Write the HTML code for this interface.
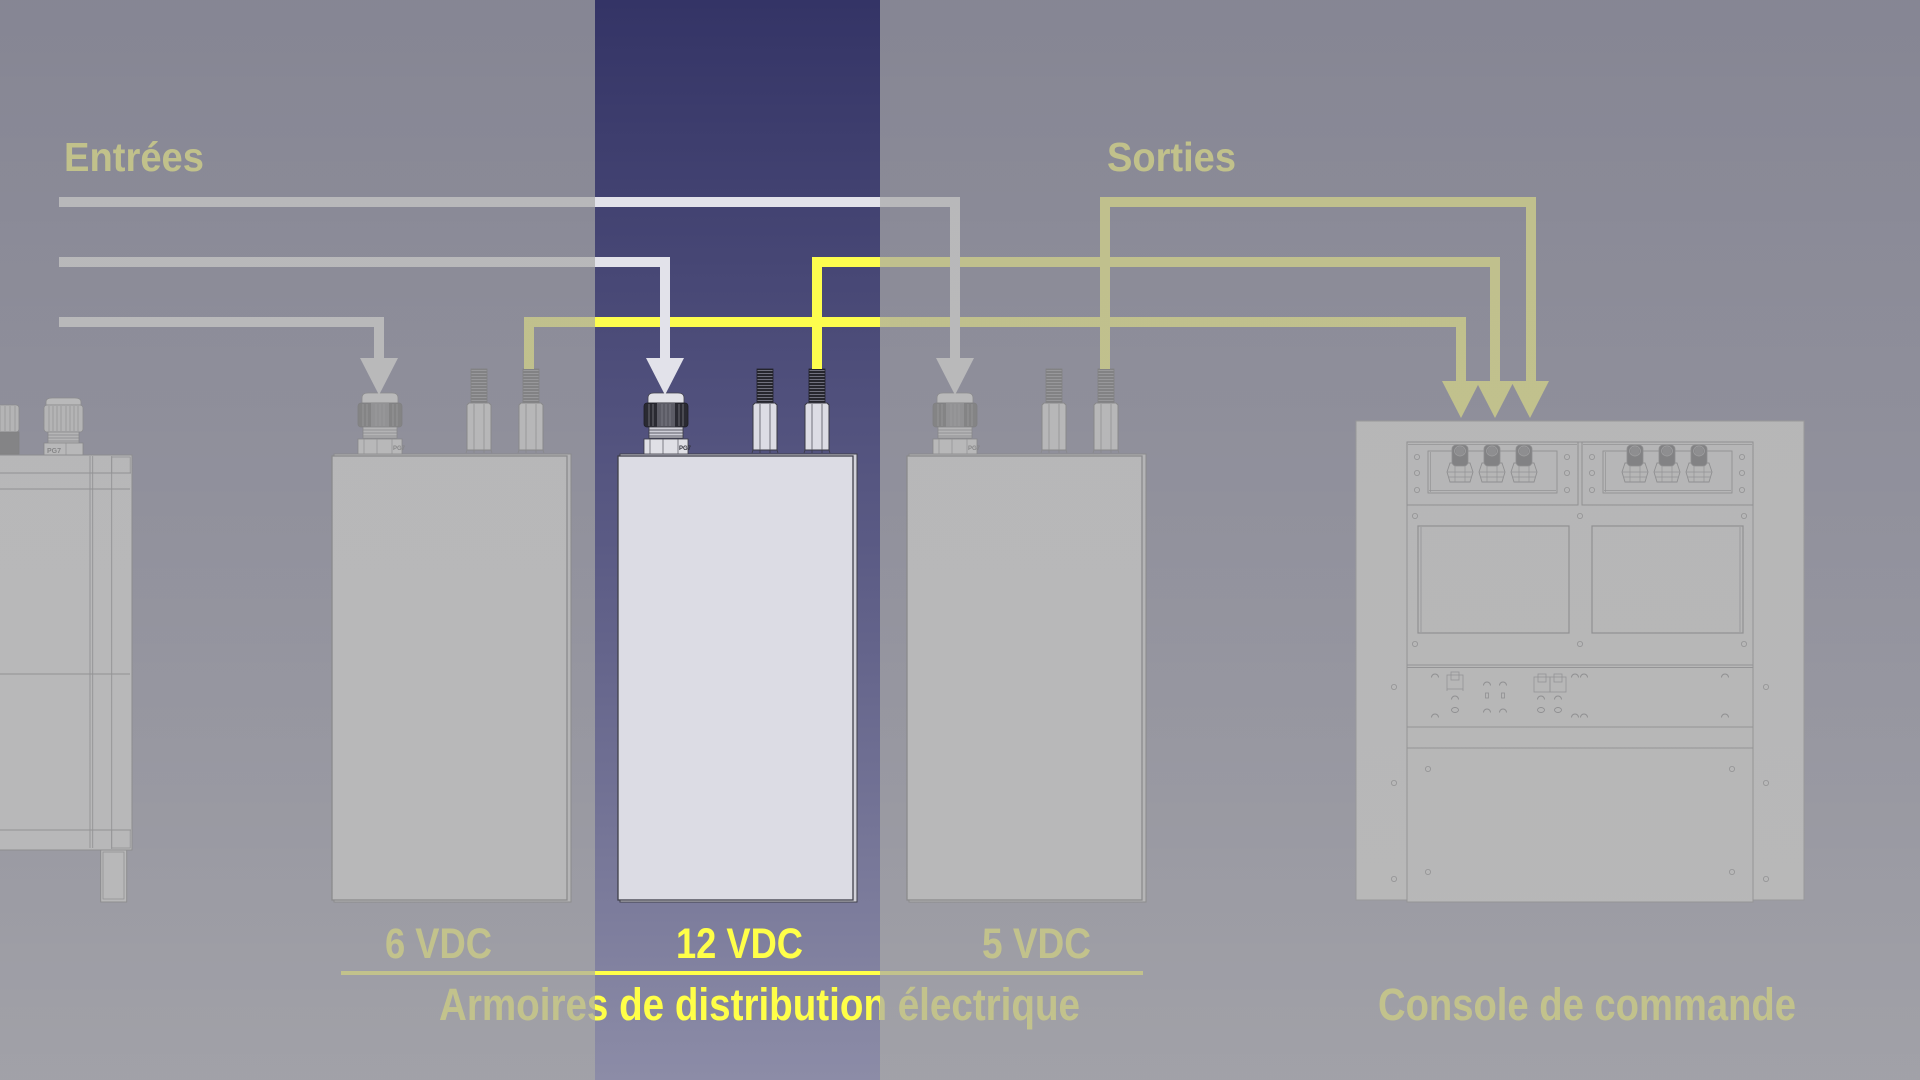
<!DOCTYPE html>
<html>
<head>
<meta charset="utf-8">
<style>
html,body{margin:0;padding:0;width:1920px;height:1080px;overflow:hidden;background:#868694;}
svg{display:block;}
text{font-family:"Liberation Sans",sans-serif;font-weight:bold;}
</style>
</head>
<body>
<svg width="1920" height="1080" viewBox="0 0 1920 1080" xmlns="http://www.w3.org/2000/svg">
<defs>
  <linearGradient id="navy" x1="0" y1="0" x2="0" y2="1080" gradientUnits="userSpaceOnUse">
    <stop offset="0" stop-color="#343466"/>
    <stop offset="0.5" stop-color="#5a5a84"/>
    <stop offset="1" stop-color="#8c8ca7"/>
  </linearGradient>
  <linearGradient id="ov" x1="0" y1="0" x2="0" y2="1080" gradientUnits="userSpaceOnUse">
    <stop offset="0" stop-color="rgb(167,167,166)" stop-opacity="0.71"/>
    <stop offset="1" stop-color="rgb(170,170,168)" stop-opacity="0.71"/>
  </linearGradient>
  <pattern id="sp" width="4" height="3" patternUnits="userSpaceOnUse">
    <rect width="4" height="3" fill="#26262e"/>
    <rect y="1" width="4" height="1" fill="#70707e"/>
  </pattern>

  <!-- connector (centered at 0) -->
  <g id="conn">
    <rect x="-8" y="369" width="16" height="34" fill="url(#sp)" stroke="#22222a" stroke-width="0.8"/>
    <path d="M-12,405 L-10,403 L10,403 L12,405 L12,450 L-12,450 Z" fill="#dcdce4" stroke="#3a3a44" stroke-width="1"/>
    <line x1="-5" y1="404" x2="-5" y2="450" stroke="#55555f" stroke-width="0.8"/>
    <line x1="5" y1="404" x2="5" y2="450" stroke="#55555f" stroke-width="0.8"/>
    <path d="M-12,450 L-13,453 M12,450 L13,453 M-5,450 L-5,453 M5,450 L5,453" stroke="#3a3a44" stroke-width="0.8"/>
  </g>

  <!-- gland (centered at 0) -->
  <g id="gland">
    <path d="M-18,403 L-18,398 Q-18,393 -12,393 L12,393 Q18,393 18,398 L18,403 Z" fill="#e2e2e8" stroke="#44444e" stroke-width="0.8"/>
    <rect x="-22" y="403" width="44" height="24" rx="3" fill="#2a2a32" stroke="#1e1e26" stroke-width="0.8"/>
    <rect x="-9" y="403" width="18" height="24" fill="#5c5c66"/>
    <path d="M-17,404 V426 M-13,404 V426 M-4,404 V426 M0,404 V426 M4,404 V426 M13,404 V426 M17,404 V426" stroke="#85858f" stroke-width="0.7"/>
    <rect x="-17" y="427" width="34" height="11" fill="#cfcfd8" stroke="#3a3a44" stroke-width="0.8"/>
    <path d="M-17,430 H17 M-17,433 H17 M-17,436 H17" stroke="#3a3a44" stroke-width="0.8"/>
    <rect x="-22" y="439" width="44" height="15" fill="#e0e0e6" stroke="#3a3a44" stroke-width="0.8"/>
    <path d="M-16,439 V454 M-3,439 V454 M12,439 V454" stroke="#55555f" stroke-width="0.7"/>
    <text x="13" y="450" font-size="6" fill="#30303a" font-weight="bold">PG7</text>
  </g>

  <!-- cabinet -->
  <g id="cab">
    <rect x="2" y="454" width="237" height="448" fill="#d2d2da" stroke="#40404a" stroke-width="1"/>
    <rect x="0" y="456" width="235" height="444" fill="#dcdce4" stroke="#40404a" stroke-width="1.3"/>
    <use href="#gland" x="48"/>
    <use href="#conn" x="147"/>
    <use href="#conn" x="199"/>
  </g>

  <!-- console connector -->
  <g id="cc">
    <path d="M-13,472 L-10,463 L10,463 L13,472 L10,482 L-10,482 Z" fill="#d6d6dc" stroke="#50505a" stroke-width="0.9"/>
    <path d="M-12,477 L12,477 M-5,463 V482 M5,463 V482 M-13,472 H13" stroke="#60606a" stroke-width="0.7" fill="none"/>
    <rect x="-8" y="445" width="16" height="21" rx="4" fill="#25252d" stroke="#50505a" stroke-width="0.8"/>
    <ellipse cx="0" cy="451" rx="5.5" ry="5" fill="#3a3a44" stroke="#8a8a94" stroke-width="0.7"/>
    <path d="M-3,448 V455 M-1,447 V456 M1,447 V456 M3,448 V455" stroke="#8a8a94" stroke-width="0.5"/>
  </g>
  <g id="hole"><circle r="2.6" fill="none" stroke="#5a5a64" stroke-width="0.8"/></g>
  <g id="arc"><path d="M-3.5,1.5 A3.5,3.5 0 0 1 3.5,1.5" fill="none" stroke="#50505a" stroke-width="1"/></g>
</defs>

<!-- background -->
<rect x="0" y="0" width="1920" height="1080" fill="url(#navy)"/>

<!-- far-left partial cabinet -->
<g>
  <g>
    <rect x="-20" y="405" width="39" height="27" rx="3" fill="#d0d0d8" stroke="#44444e" stroke-width="0.8"/>
    <path d="M-12,406 V431 M-6,406 V431 M0,406 V431 M5,406 V431 M10,406 V431 M15,406 V431" stroke="#5a5a64" stroke-width="0.7"/>
    <rect x="-20" y="432" width="39" height="22" fill="#2c2c34" stroke="#22222a" stroke-width="0.8"/>
  </g>
  <g>
    <path d="M46,405 L46,402 Q46,398 52,398 L75,398 Q81,398 81,402 L81,405 Z" fill="#e2e2e8" stroke="#44444e" stroke-width="0.8"/>
    <rect x="44" y="405" width="39" height="27" rx="3" fill="#d0d0d8" stroke="#44444e" stroke-width="0.8"/>
    <path d="M49,406 V431 M53,406 V431 M57,406 V431 M61,406 V431 M66,406 V431 M70,406 V431 M74,406 V431 M78,406 V431" stroke="#5a5a64" stroke-width="0.7"/>
    <rect x="48" y="432" width="31" height="11" fill="#d4d4dc" stroke="#3a3a44" stroke-width="0.8"/>
    <path d="M48,435 H79 M48,438 H79 M48,441 H79" stroke="#3a3a44" stroke-width="0.7"/>
    <rect x="44" y="443" width="39" height="12" fill="#e0e0e6" stroke="#3a3a44" stroke-width="0.8"/>
    <line x1="66" y1="443" x2="66" y2="455" stroke="#55555f" stroke-width="0.7"/>
    <text x="47" y="453" font-size="7" fill="#30303a">PG7</text>
  </g>
  <rect x="-5" y="455" width="137" height="395" fill="#dcdce4" stroke="#4a4a54" stroke-width="1"/>
  <path d="M0,473 H131 M0,489 H130 M0,674 H130 M0,830 H131" stroke="#5a5a64" stroke-width="1" fill="none"/>
  <path d="M90,456 V848 M92.7,456 V848 M111.7,456 V849" stroke="#5a5a64" stroke-width="0.9" fill="none"/>
  <rect x="111.7" y="457" width="18.5" height="16" fill="none" stroke="#5a5a64" stroke-width="0.8"/>
  <rect x="111.7" y="830" width="18.5" height="18" fill="none" stroke="#5a5a64" stroke-width="0.8"/>
  <rect x="100.7" y="850" width="26" height="52" fill="#dcdce4" stroke="#4a4a54" stroke-width="1"/>
  <rect x="103" y="852" width="21" height="47" fill="none" stroke="#5a5a64" stroke-width="0.8"/>
</g>

<!-- cabinets -->
<use href="#cab" x="332"/>
<use href="#cab" x="618"/>
<use href="#cab" x="907"/>

<!-- console -->
<g>
  <rect x="1356" y="421" width="448" height="479" fill="#dadadf" stroke="#70707a" stroke-width="1"/>
  <rect x="1407" y="442" width="346" height="460" fill="#d9d9de" stroke="#60606a" stroke-width="1"/>
  <rect x="1407" y="442" width="171" height="63" fill="none" stroke="#55555f" stroke-width="1"/>
  <rect x="1582" y="442" width="171" height="63" fill="none" stroke="#55555f" stroke-width="1"/>
  <path d="M1408,444.5 H1577 M1583,444.5 H1752" stroke="#60606a" stroke-width="0.7"/>
  <rect x="1428" y="451" width="129" height="42" fill="none" stroke="#55555f" stroke-width="0.9"/>
  <rect x="1603" y="451" width="129" height="42" fill="none" stroke="#55555f" stroke-width="0.9"/>
  <path d="M1430.5,452 V492 M1605.5,452 V492 M1429,490.5 H1556 M1604,490.5 H1731" stroke="#60606a" stroke-width="0.7"/>
  <use href="#cc" x="1460"/><use href="#cc" x="1492"/><use href="#cc" x="1524"/>
  <use href="#cc" x="1635"/><use href="#cc" x="1667"/><use href="#cc" x="1699"/>
  <use href="#hole" x="1417" y="457"/><use href="#hole" x="1417" y="473"/><use href="#hole" x="1417" y="490"/>
  <use href="#hole" x="1567" y="457"/><use href="#hole" x="1567" y="473"/><use href="#hole" x="1567" y="490"/>
  <use href="#hole" x="1592" y="457"/><use href="#hole" x="1592" y="473"/><use href="#hole" x="1592" y="490"/>
  <use href="#hole" x="1742" y="457"/><use href="#hole" x="1742" y="473"/><use href="#hole" x="1742" y="490"/>
  <use href="#hole" x="1415" y="516"/><use href="#hole" x="1580" y="516"/><use href="#hole" x="1744" y="516"/>
  <use href="#hole" x="1415" y="644"/><use href="#hole" x="1580" y="644"/><use href="#hole" x="1744" y="644"/>
  <rect x="1418" y="526" width="151" height="107" fill="none" stroke="#55555f" stroke-width="1.2"/>
  <rect x="1592" y="526" width="151" height="107" fill="none" stroke="#55555f" stroke-width="1.2"/>
  <path d="M1421,527 V632 M1740,527 V632" stroke="#60606a" stroke-width="0.8"/>
  <path d="M1407,665 H1753 M1407,667.5 H1753 M1407,727 H1753 M1407,748 H1753" stroke="#60606a" stroke-width="0.9"/>
  <use href="#arc" x="1435" y="676"/><use href="#arc" x="1435" y="716"/>
  <rect x="1447" y="675" width="16" height="14" fill="none" stroke="#60606a" stroke-width="0.8"/>
  <rect x="1451" y="672" width="8" height="8" fill="none" stroke="#60606a" stroke-width="0.8"/>
  <path d="M1447,689 V691 M1463,689 V691" stroke="#60606a" stroke-width="0.8"/>
  <use href="#arc" x="1455" y="698"/>
  <ellipse cx="1455" cy="710" rx="3.5" ry="2.5" fill="none" stroke="#50505a" stroke-width="0.9"/>
  <use href="#arc" x="1487" y="684"/><use href="#arc" x="1503" y="684"/>
  <rect x="1485.5" y="693" width="3" height="5" fill="none" stroke="#50505a" stroke-width="0.8"/>
  <rect x="1501.5" y="693" width="3" height="5" fill="none" stroke="#50505a" stroke-width="0.8"/>
  <use href="#arc" x="1487" y="711"/><use href="#arc" x="1503" y="711"/>
  <rect x="1534" y="677" width="16" height="15" fill="none" stroke="#60606a" stroke-width="0.8"/>
  <rect x="1550" y="677" width="16" height="15" fill="none" stroke="#60606a" stroke-width="0.8"/>
  <rect x="1538" y="674" width="8" height="8" fill="none" stroke="#60606a" stroke-width="0.8"/>
  <rect x="1554" y="674" width="8" height="8" fill="none" stroke="#60606a" stroke-width="0.8"/>
  <use href="#arc" x="1541" y="698"/><use href="#arc" x="1558" y="698"/>
  <ellipse cx="1541" cy="710" rx="3.5" ry="2.5" fill="none" stroke="#50505a" stroke-width="0.9"/>
  <ellipse cx="1558" cy="710" rx="3.5" ry="2.5" fill="none" stroke="#50505a" stroke-width="0.9"/>
  <use href="#arc" x="1575" y="676"/><use href="#arc" x="1584" y="676"/>
  <use href="#arc" x="1575" y="716"/><use href="#arc" x="1584" y="716"/>
  <use href="#arc" x="1725" y="676"/><use href="#arc" x="1725" y="716"/>
  <use href="#hole" x="1394" y="687"/><use href="#hole" x="1394" y="783"/><use href="#hole" x="1394" y="879"/>
  <use href="#hole" x="1766" y="687"/><use href="#hole" x="1766" y="783"/><use href="#hole" x="1766" y="879"/>
  <use href="#hole" x="1428" y="769"/><use href="#hole" x="1732" y="769"/>
  <use href="#hole" x="1428" y="872"/><use href="#hole" x="1732" y="872"/>
</g>

<!-- yellow connectors (outputs) -->
<g fill="#fdfd4e">
  <rect x="1100" y="197" width="10" height="172"/>
  <rect x="1100" y="197" width="436" height="10"/>
  <rect x="1526" y="197" width="10" height="186"/>
  <polygon points="1511,381 1549,381 1530,418"/>
  <rect x="812" y="257" width="10" height="112"/>
  <rect x="812" y="257" width="688" height="10"/>
  <rect x="1490" y="257" width="10" height="126"/>
  <polygon points="1476,381 1514,381 1495,418"/>
  <rect x="524" y="317" width="10" height="52"/>
  <rect x="524" y="317" width="942" height="10"/>
  <rect x="1456" y="317" width="10" height="66"/>
  <polygon points="1442,381 1480,381 1461,418"/>
</g>

<!-- white connectors (inputs) -->
<g fill="#e2e2ea">
  <rect x="59" y="197" width="901" height="10"/>
  <rect x="950" y="197" width="10" height="163"/>
  <polygon points="936,358 974,358 955,395"/>
  <rect x="59" y="257" width="611" height="10"/>
  <rect x="660" y="257" width="10" height="103"/>
  <polygon points="646,358 684,358 665,395"/>
  <rect x="59" y="317" width="325" height="10"/>
  <rect x="374" y="317" width="10" height="43"/>
  <polygon points="360,358 398,358 379,395"/>
</g>

<!-- texts -->
<g fill="#ffff48">
  <text x="64" y="171" font-size="41" textLength="140" lengthAdjust="spacingAndGlyphs">Entrées</text>
  <text x="1107" y="171" font-size="41" textLength="129" lengthAdjust="spacingAndGlyphs">Sorties</text>
  <text x="385" y="958" font-size="43" textLength="107" lengthAdjust="spacingAndGlyphs">6 VDC</text>
  <text x="676" y="958" font-size="43" textLength="127" lengthAdjust="spacingAndGlyphs">12 VDC</text>
  <text x="982" y="958" font-size="43" textLength="109" lengthAdjust="spacingAndGlyphs">5 VDC</text>
  <rect x="341" y="971" width="802" height="4"/>
  <text x="439" y="1020" font-size="45" textLength="641" lengthAdjust="spacingAndGlyphs">Armoires de distribution électrique</text>
  <text x="1378" y="1020" font-size="45" textLength="418" lengthAdjust="spacingAndGlyphs">Console de commande</text>
</g>

<!-- dimming overlays outside the highlighted band -->
<rect x="0" y="0" width="595" height="1080" fill="url(#ov)"/>
<rect x="880" y="0" width="1040" height="1080" fill="url(#ov)"/>
</svg>
</body>
</html>
